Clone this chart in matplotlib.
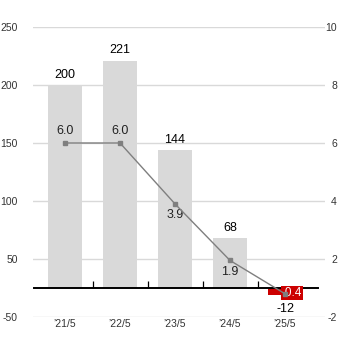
import matplotlib
matplotlib.use("Agg")
import matplotlib.pyplot as plt
from matplotlib.ticker import FixedLocator
import numpy as np

plt.rcParams['font.family'] = ['Liberation Sans', 'DejaVu Sans']

# data
periods = ["’21/5", "’22/5", "’23/5", "’24/5", "’25/5"]
bar_values = [200, 221, 144, 68, -12]
line_values = [6.0, 6.0, 3.9, 1.9, -0.4]
left_ticks = [-50, 50, 100, 150, 200, 250]
right_ticks = [-2, 2, 4, 6, 8, 10]

GRAY_BAR = "#d9d9d9"
RED_BAR = "#cc0000"
LINE_COL = "#7f7f7f"
TICK_COL = "#333333"


# the chart squeezes the region below the first positive tick to half height
def squeeze(knee):
    def fwd(y):
        y = np.asarray(y, dtype=float)
        return np.where(y >= knee, y, knee / 2 + y / 2)

    def inv(t):
        t = np.asarray(t, dtype=float)
        return np.where(t >= knee, t, (t - knee / 2) * 2)
    return fwd, inv


fig = plt.figure(figsize=(3.4, 3.4), dpi=100)
ax = fig.add_axes([33 / 340, 23 / 340, 292 / 340, 290 / 340])
ax2 = ax.twinx()

x = np.arange(len(periods))

ax.set_yscale('function', functions=squeeze(left_ticks[1]))
ax.set_ylim(left_ticks[0], left_ticks[-1])
ax2.set_yscale('function', functions=squeeze(right_ticks[1]))
ax2.set_ylim(right_ticks[0], right_ticks[-1])
ax.set_xlim(-0.582, 4.727)

# gridlines
for t in left_ticks:
    ax.axhline(t, color=GRAY_BAR, lw=1, zorder=0)

# bars
colors = [GRAY_BAR if v >= 0 else RED_BAR for v in bar_values]
bars = ax.bar(x, bar_values, width=0.62, color=colors, zorder=1)
for rect, v in zip(bars, bar_values):
    cx = rect.get_x() + rect.get_width() / 2
    if v >= 0:
        ax.annotate(f"{v}", (cx, v), xytext=(0, 3), textcoords='offset points',
                    ha='center', va='bottom', fontsize=9, color='black', zorder=5)
    else:
        ax.annotate(f"{v}", (cx, v), xytext=(0, -6), textcoords='offset points',
                    ha='center', va='top', fontsize=9, color='black', zorder=5)

# zero baseline with category separator ticks
ax.axhline(0, xmin=0.003, xmax=0.976, color='black', lw=1.4, zorder=3)
ax.plot(x[:-1] + 0.5, np.zeros(len(x) - 1), linestyle='none', marker=2,
        ms=5, mew=0.9, color='black', zorder=3)

# line on right axis
ax2.plot(x, line_values, color=LINE_COL, lw=1, marker='s', ms=3,
         mfc=LINE_COL, mec=LINE_COL, zorder=4)
for i, v in enumerate(line_values):
    if i < 2:
        ax2.annotate(f"{v:.1f}", (i, v), xytext=(0, 4), textcoords='offset points',
                     ha='center', va='bottom', fontsize=9, color='#222222')
    elif i == len(line_values) - 1:
        # negative value sits on the red bar, white text on red
        ax2.annotate(f"{v:.1f}", (i, v), xytext=(5, 0.5), textcoords='offset points',
                     ha='center', va='center', fontsize=8.5, color='white', zorder=3,
                     bbox=dict(boxstyle='square,pad=0.08', fc=RED_BAR, ec='none'))
    else:
        ax2.annotate(f"{v:.1f}", (i, v), xytext=(0, -4), textcoords='offset points',
                     ha='center', va='top', fontsize=9, color='#222222')

# ticks
ax.yaxis.set_major_locator(FixedLocator(left_ticks))
ax.set_yticklabels([str(t) for t in left_ticks])
ax.yaxis.set_minor_locator(FixedLocator([]))
ax.tick_params(axis='y', length=0, pad=10.8, labelsize=7.5, labelcolor=TICK_COL)

ax2.yaxis.set_major_locator(FixedLocator(right_ticks))
ax2.set_yticklabels([str(t) for t in right_ticks])
ax2.yaxis.set_minor_locator(FixedLocator([]))
ax2.tick_params(axis='y', length=0, pad=8.6, labelsize=7.5, labelcolor=TICK_COL)
for lbl in ax2.get_yticklabels():
    lbl.set_horizontalalignment('right')

ax.set_xticks(x)
ax.set_xticklabels(periods)
ax.tick_params(axis='x', length=0, pad=1.5, labelsize=7.5, labelcolor=TICK_COL)

for a in (ax, ax2):
    for s in a.spines.values():
        s.set_visible(False)

fig.savefig("out.png", dpi=100)
